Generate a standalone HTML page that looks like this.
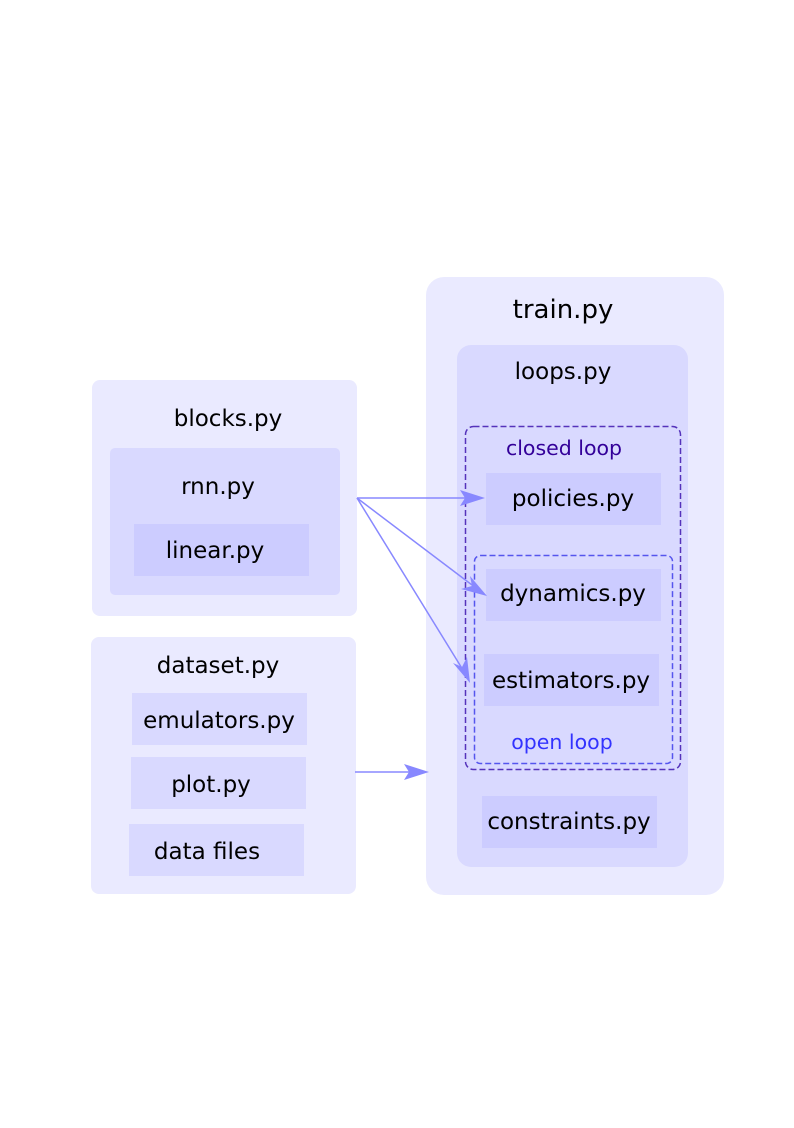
<!DOCTYPE html><html><head><style>body{margin:0;background:#fff}</style></head><body>
<svg width="794" height="1123" xmlns="http://www.w3.org/2000/svg" font-family="DejaVu Sans, sans-serif">
<rect x="426" y="277" width="298" height="618" rx="18" fill="#eaeaff"/>
<text x="563" y="318" font-size="26" text-anchor="middle">train.py</text>
<rect x="457" y="345" width="231" height="522" rx="14" fill="#d9d9ff"/>
<text x="563" y="379" font-size="23" text-anchor="middle">loops.py</text>
<rect x="465.5" y="426.5" width="215" height="343" rx="8" fill="none" stroke="#5533bb" stroke-width="1.5" stroke-dasharray="6,3"/>
<text x="564" y="455" font-size="20.5" text-anchor="middle" fill="#330099">closed loop</text>
<rect x="486" y="473" width="175" height="52" fill="#ccccff"/>
<text x="573" y="506" font-size="23" text-anchor="middle">policies.py</text>
<rect x="474.5" y="555.5" width="198" height="208" rx="6" fill="none" stroke="#5555ee" stroke-width="1.5" stroke-dasharray="6,3"/>
<rect x="486" y="569" width="175" height="52" fill="#ccccff"/>
<text x="573" y="601" font-size="23" text-anchor="middle">dynamics.py</text>
<rect x="484" y="654" width="175" height="52" fill="#ccccff"/>
<text x="571" y="688" font-size="23" text-anchor="middle">estimators.py</text>
<text x="562" y="749" font-size="20.5" text-anchor="middle" fill="#3333ff">open loop</text>
<rect x="482" y="796" width="175" height="52" fill="#ccccff"/>
<text x="569" y="829" font-size="23" text-anchor="middle">constraints.py</text>

<rect x="92" y="380" width="265" height="236" rx="8" fill="#eaeaff"/>
<text x="228" y="426" font-size="23" text-anchor="middle">blocks.py</text>
<rect x="110" y="448" width="230" height="147" rx="5" fill="#d9d9ff"/>
<text x="218" y="494" font-size="23" text-anchor="middle">rnn.py</text>
<rect x="134" y="524" width="175" height="52" fill="#ccccff"/>
<text x="215" y="558" font-size="23" text-anchor="middle">linear.py</text>

<rect x="91" y="637" width="265" height="257" rx="8" fill="#eaeaff"/>
<text x="218" y="673" font-size="23" text-anchor="middle">dataset.py</text>
<rect x="132" y="693" width="175" height="52" fill="#d9d9ff"/>
<text x="219" y="728" font-size="23" text-anchor="middle">emulators.py</text>
<rect x="131" y="757" width="175" height="52" fill="#d9d9ff"/>
<text x="211" y="792" font-size="23" text-anchor="middle">plot.py</text>
<rect x="129" y="824" width="175" height="52" fill="#d9d9ff"/>
<text x="207" y="859" font-size="23" text-anchor="middle">data files</text>

<g stroke="#8888ff" stroke-width="1.5" fill="none">
<line x1="357" y1="498" x2="470" y2="498"/>
<line x1="357" y1="498" x2="476" y2="588"/>
<line x1="357" y1="498" x2="463" y2="670"/>
<line x1="355" y1="772" x2="415" y2="772"/>
</g>
<g fill="#8888ff">
<polygon points="485,498 460,490 465,498 460,506"/>
<polygon points="487,596 470,576 472,586 461,589"/>
<polygon points="470,683 467,657 462,667 453,663"/>
<polygon points="429,772 404,764 409,772 404,780"/>
</g>
</svg>
</body></html>
